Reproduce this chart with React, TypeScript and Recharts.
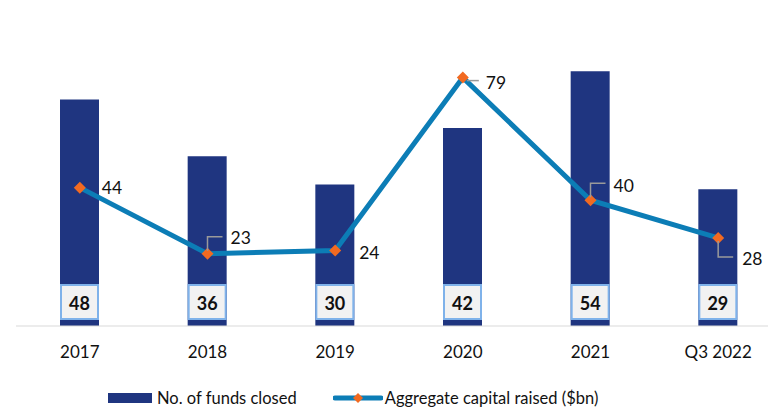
import React from 'react';
import { ComposedChart, Bar, Line, XAxis, YAxis, LabelList } from 'recharts';

const years = ['2017', '2018', '2019', '2020', '2021', 'Q3 2022'];
const fundsClosed = [48, 36, 30, 42, 54, 29];
const capitalRaised = [44, 23, 24, 79, 40, 28];

const data = years.map((year, i) => ({
    year,
    funds: fundsClosed[i],
    capital: capitalRaised[i],
}));

const NAVY = '#1F3580';
const LINE_BLUE = '#0C7DB6';
const ORANGE = '#F26A21';
const FONT = 'Lato, "Open Sans", sans-serif';

// label placement for the line values (dx, dy from the point, leader style)
const lineLabelStyle: { dx: number; dy: number; leader: 'none' | 'up' | 'down' | 'side' }[] = [
    { dx: 22, dy: 0, leader: 'none' },
    { dx: 23, dy: -16, leader: 'up' },
    { dx: 24, dy: 2, leader: 'none' },
    { dx: 23, dy: 5, leader: 'side' },
    { dx: 23, dy: -15, leader: 'up' },
    { dx: 24, dy: 21, leader: 'down' },
];

const Diamond = (props: any) => {
    const { cx, cy } = props;
    if (cx == null || cy == null) return null;
    const r = 6;
    return (
        <path
            d={`M${cx},${cy - r} L${cx + r},${cy} L${cx},${cy + r} L${cx - r},${cy} Z`}
            fill={ORANGE}
        />
    );
};

const LineValueLabel = (props: any) => {
    const { x, y, value, index } = props;
    const s = lineLabelStyle[index];
    let leader = null;
    if (s.leader === 'up') {
        leader = <path d={`M${x},${y - 3} V${y - 17} H${x + 15}`} stroke="#9a9a9a" strokeWidth={1.5} fill="none" />;
    } else if (s.leader === 'down') {
        leader = <path d={`M${x},${y + 3} V${y + 19} H${x + 15}`} stroke="#9a9a9a" strokeWidth={1.5} fill="none" />;
    } else if (s.leader === 'side') {
        leader = <path d={`M${x + 4},${y + 3} H${x + 16}`} stroke="#9a9a9a" strokeWidth={1.5} fill="none" />;
    }
    return (
        <g>
            {leader}
            <text
                x={x + s.dx}
                y={y + s.dy}
                dominantBaseline="central"
                fontSize={17.5}
                fontFamily={FONT}
                fill="#111"
            >
                {value}
            </text>
        </g>
    );
};

const BarValueLabel = (props: any) => {
    const { x, y, width, height, value } = props;
    const bottom = y + height - 7;
    const boxH = 34;
    return (
        <g>
            <rect
                x={x + 1}
                y={bottom - boxH}
                width={width - 2}
                height={boxH}
                fill="#F2F2F2"
                stroke="#7FB2EA"
                strokeWidth={2}
            />
            <text
                x={x + width / 2}
                y={bottom - boxH / 2 + 1}
                textAnchor="middle"
                dominantBaseline="central"
                fontSize={18}
                fontWeight="bold"
                fontFamily={FONT}
                fill="#111"
            >
                {value}
            </text>
        </g>
    );
};

const App: React.FC = () => {
    return (
        <div style={{ position: 'absolute', left: 0, top: 0, width: 768, height: 409, overflow: 'hidden', background: '#fff', fontFamily: FONT }}>
            <ComposedChart
                width={790}
                height={409}
                data={data}
                margin={{ top: 43, right: 8, left: 16, bottom: 43 }}
            >
                <XAxis
                    dataKey="year"
                    height={40}
                    axisLine={{ stroke: '#D9D9D9', strokeWidth: 1 }}
                    tickLine={false}
                    tickMargin={14}
                    tick={{ fill: '#111', fontSize: 17, fontFamily: FONT }}
                    interval={0}
                />
                <YAxis yAxisId="left" domain={[0, 60]} hide />
                <YAxis yAxisId="right" orientation="right" domain={[0, 90]} hide />
                <Bar yAxisId="left" dataKey="funds" fill={NAVY} barSize={39} isAnimationActive={false}>
                    <LabelList dataKey="funds" content={BarValueLabel} />
                </Bar>
                <Line
                    yAxisId="right"
                    dataKey="capital"
                    stroke={LINE_BLUE}
                    strokeWidth={5}
                    dot={<Diamond />}
                    activeDot={false}
                    isAnimationActive={false}
                >
                    <LabelList dataKey="capital" content={LineValueLabel} />
                </Line>
            </ComposedChart>
            <div
                style={{
                    position: 'absolute',
                    top: 388,
                    left: 108,
                    display: 'flex',
                    alignItems: 'center',
                    fontSize: 16.5,
                    lineHeight: '20px',
                    color: '#111',
                    whiteSpace: 'nowrap',
                }}
            >
                <span style={{ display: 'inline-block', width: 44, height: 10, background: NAVY, marginRight: 5 }} />
                <span>No. of funds closed</span>
                <svg width={50} height={12} style={{ marginLeft: 36, marginRight: 2 }}>
                    <line x1={2} y1={6} x2={48} y2={6} stroke={LINE_BLUE} strokeWidth={5} strokeLinecap="round" />
                    <path d="M25,1 L30,6 L25,11 L20,6 Z" fill={ORANGE} />
                </svg>
                <span>Aggregate capital raised ($bn)</span>
            </div>
        </div>
    );
};

export default App;
